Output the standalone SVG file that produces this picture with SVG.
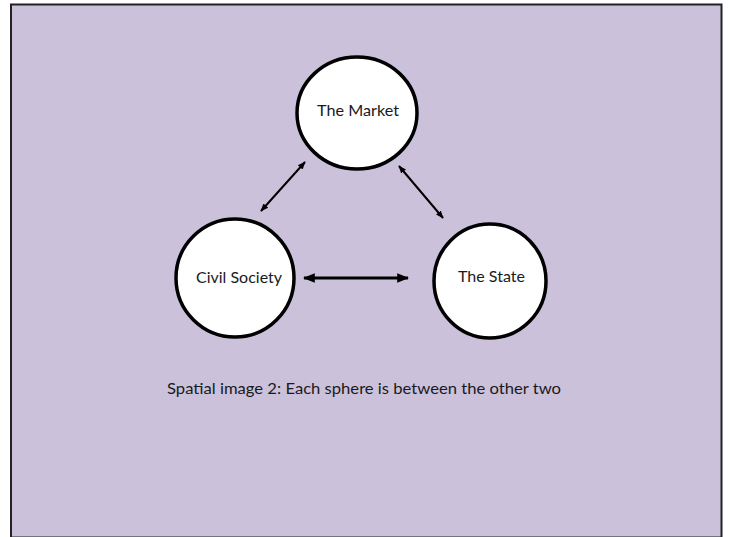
<svg xmlns="http://www.w3.org/2000/svg" width="730" height="537" viewBox="0 0 730 537">
<style>
.node{fill:#fff;stroke:#000;stroke-width:3.5}
.lbl{font-family:Lato,"Open Sans","Liberation Sans",sans-serif;font-size:16px;fill:#1a1a1a}
.conn{stroke:#000;fill:none}
</style>
<defs>
<marker id="ah" viewBox="0 0 10 10" refX="9" refY="5" markerWidth="4" markerHeight="4" orient="auto-start-reverse" markerUnits="strokeWidth">
<path d="M0,1 L10,5 L0,9 Z" fill="#000"/>
</marker>
</defs>
<rect x="0" y="0" width="730" height="537" fill="#fff"/>
<rect x="11" y="4.5" width="710.5" height="533" fill="#cbc1db" stroke="#222" stroke-width="2"/>
<g id="connectors">
<line class="conn" x1="305" y1="162" x2="261" y2="211" stroke-width="2" marker-start="url(#ah)" marker-end="url(#ah)"/>
<line class="conn" x1="399" y1="166" x2="443" y2="218" stroke-width="2" marker-start="url(#ah)" marker-end="url(#ah)"/>
<line class="conn" x1="304" y1="278" x2="408" y2="278" stroke-width="3" marker-start="url(#ah)" marker-end="url(#ah)"/>
</g>
<g id="market">
<ellipse class="node" cx="357" cy="113" rx="60" ry="56"/>
<text class="lbl" x="317" y="116" textLength="82" lengthAdjust="spacingAndGlyphs">The Market</text>
</g>
<g id="civil">
<ellipse class="node" cx="235" cy="278" rx="59" ry="59"/>
<text class="lbl" x="196" y="283" textLength="86" lengthAdjust="spacingAndGlyphs">Civil Society</text>
</g>
<g id="state">
<ellipse class="node" cx="490" cy="281" rx="56" ry="57"/>
<text class="lbl" x="458" y="282" textLength="67" lengthAdjust="spacingAndGlyphs">The State</text>
</g>
<text class="lbl" x="167" y="394" textLength="394" lengthAdjust="spacingAndGlyphs">Spatial image 2: Each sphere is between the other two</text>
</svg>
